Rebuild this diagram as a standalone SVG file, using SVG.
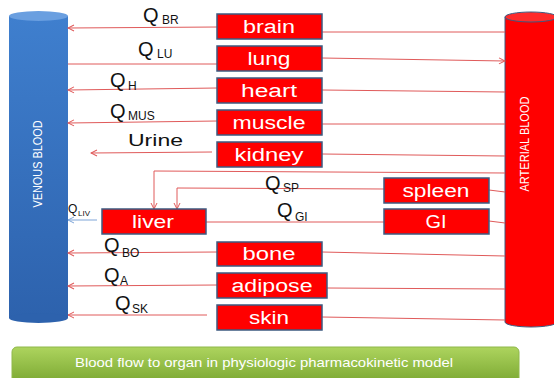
<svg xmlns="http://www.w3.org/2000/svg" width="554" height="378" viewBox="0 0 554 378">
<defs>
<linearGradient id="vg" x1="0" y1="0" x2="0" y2="1"><stop offset="0" stop-color="#3f7fce"/><stop offset="1" stop-color="#2d62ad"/></linearGradient>
<linearGradient id="fg" x1="0" y1="0" x2="0" y2="1"><stop offset="0" stop-color="#add45e"/><stop offset="1" stop-color="#78a52f"/></linearGradient>
<marker id="ar" markerWidth="8" markerHeight="8" refX="7" refY="4" orient="auto" markerUnits="userSpaceOnUse"><path d="M1,1 L7,4 L1,7" fill="none" stroke="#e05a5a" stroke-width="1"/></marker>
<marker id="ab" markerWidth="8" markerHeight="8" refX="7" refY="4" orient="auto" markerUnits="userSpaceOnUse"><path d="M1,1 L7,4 L1,7" fill="none" stroke="#7ea5d8" stroke-width="1"/></marker>
<style>
.box{fill:#ff0000;stroke:#3d5a80;stroke-width:1.5}
.bt{fill:#fff;font-family:"Liberation Sans",Arial,sans-serif;font-size:18px;text-anchor:middle}
.c{fill:none;stroke:#e05a5a;stroke-width:1}
.q{fill:#111;font-family:"Liberation Sans",Arial,sans-serif;font-size:20px}
.s{font-size:12px}
.cyl{fill:#fff;font-family:"Liberation Sans",Arial,sans-serif;font-size:12px;text-anchor:middle}
</style>
</defs>
<rect width="554" height="378" fill="#fff"/>
<g id="venous">
<rect x="9" y="16" width="59" height="302" fill="url(#vg)"/>
<ellipse cx="38.5" cy="318" rx="29.5" ry="5" fill="#2d62ad"/>
<ellipse cx="38.5" cy="16" rx="29.5" ry="5" fill="#6a9fe0"/>
<text class="cyl" transform="translate(42,164) rotate(-90)" textLength="87" lengthAdjust="spacingAndGlyphs">VENOUS BLOOD</text>
</g>
<g id="arterial">
<path d="M505,17 L505,322 A26,5 0 0 0 557,322 L557,17 Z" fill="#ff0000" stroke="#3d5a80" stroke-width="1"/>
<ellipse cx="531" cy="17" rx="26" ry="5" fill="#ff2a2a" stroke="#3d5a80" stroke-width="1"/>
<text class="cyl" transform="translate(529,144) rotate(-90)" textLength="95" lengthAdjust="spacingAndGlyphs">ARTERIAL BLOOD</text>
</g>
<g id="connectors">
<path class="c" d="M322,32 L505,32"/>
<path class="c" d="M217,27 L68,28" marker-end="url(#ar)"/>
<path class="c" d="M68,64 L217,64"/>
<path class="c" d="M322,58 L505,61" marker-end="url(#ar)"/>
<path class="c" d="M322,90 L505,92"/>
<path class="c" d="M217,88 L68,90" marker-end="url(#ar)"/>
<path class="c" d="M322,124 L505,124"/>
<path class="c" d="M217,121 L68,123" marker-end="url(#ar)"/>
<path class="c" d="M322,154 L505,156"/>
<path class="c" d="M212,152 L91,153" marker-end="url(#ar)"/>
<path class="c" d="M505,173 L154,171 L154,209" marker-end="url(#ar)"/>
<path class="c" d="M489,190 L505,192"/>
<path class="c" d="M384,189 L177,188 L177,209" marker-end="url(#ar)"/>
<path class="c" d="M489,221 L505,223"/>
<path class="c" d="M384,222 L206,222"/>
<path d="M97,220 L68,220" fill="none" stroke="#7ea5d8" stroke-width="1" marker-end="url(#ab)"/>
<path class="c" d="M322,252 L505,256"/>
<path class="c" d="M217,252 L68,253" marker-end="url(#ar)"/>
<path class="c" d="M327,288 L505,289"/>
<path class="c" d="M217,285 L68,286" marker-end="url(#ar)"/>
<path class="c" d="M322,317 L505,320"/>
<path class="c" d="M207,315 L68,315" marker-end="url(#ar)"/>
</g>
<g id="brain"><rect class="box" x="217" y="14" width="105" height="25"/><text class="bt" x="269" y="33" textLength="52" lengthAdjust="spacingAndGlyphs">brain</text></g>
<g id="lung"><rect class="box" x="217" y="46" width="105" height="25"/><text class="bt" x="269" y="65" textLength="43" lengthAdjust="spacingAndGlyphs">lung</text></g>
<g id="heart"><rect class="box" x="217" y="78" width="105" height="25"/><text class="bt" x="269" y="97" textLength="56" lengthAdjust="spacingAndGlyphs">heart</text></g>
<g id="muscle"><rect class="box" x="217" y="110" width="105" height="25"/><text class="bt" x="269" y="129" textLength="73" lengthAdjust="spacingAndGlyphs">muscle</text></g>
<g id="kidney"><rect class="box" x="217" y="142" width="105" height="25"/><text class="bt" x="269" y="161" textLength="69" lengthAdjust="spacingAndGlyphs">kidney</text></g>
<g id="spleen"><rect class="box" x="384" y="178" width="105" height="25"/><text class="bt" x="436" y="197" textLength="67" lengthAdjust="spacingAndGlyphs">spleen</text></g>
<g id="liver"><rect class="box" x="102" y="209" width="104" height="25"/><text class="bt" x="153" y="228" textLength="42" lengthAdjust="spacingAndGlyphs">liver</text></g>
<g id="gi"><rect class="box" x="384" y="209" width="105" height="25"/><text class="bt" x="436" y="228" textLength="21" lengthAdjust="spacingAndGlyphs">GI</text></g>
<g id="bone"><rect class="box" x="217" y="242" width="105" height="24"/><text class="bt" x="269" y="260" textLength="53" lengthAdjust="spacingAndGlyphs">bone</text></g>
<g id="adipose"><rect class="box" x="217" y="273" width="110" height="25"/><text class="bt" x="272" y="292" textLength="81" lengthAdjust="spacingAndGlyphs">adipose</text></g>
<g id="skin"><rect class="box" x="217" y="305" width="105" height="25"/><text class="bt" x="269" y="324" textLength="40" lengthAdjust="spacingAndGlyphs">skin</text></g>
<g id="labels">
<text class="q" x="143" y="22">Q<tspan class="s" x="162" y="24">BR</tspan></text>
<text class="q" x="138" y="56">Q<tspan class="s" x="157" y="58">LU</tspan></text>
<text class="q" x="110" y="87">Q<tspan class="s" x="128" y="90">H</tspan></text>
<text class="q" x="110" y="118">Q<tspan class="s" x="128" y="120">MUS</tspan></text>
<text class="q" x="128" y="146" style="font-size:17px" textLength="55" lengthAdjust="spacingAndGlyphs">Urine</text>
<text class="q" x="265" y="190">Q<tspan class="s" x="283" y="192">SP</tspan></text>
<text class="q" x="277" y="217">Q<tspan class="s" x="295" y="221">GI</tspan></text>
<text class="q" x="68" y="213" style="font-size:12px">Q<tspan style="font-size:8px" x="78" y="216">LIV</tspan></text>
<text class="q" x="104" y="252">Q<tspan class="s" x="122" y="257">BO</tspan></text>
<text class="q" x="104" y="282">Q<tspan class="s" x="120" y="285">A</tspan></text>
<text class="q" x="115" y="310">Q<tspan class="s" x="132" y="313">SK</tspan></text>
</g>
<g id="footer">
<rect x="12" y="347" width="507" height="38" rx="5" fill="url(#fg)" stroke="#8fb84a" stroke-width="1"/>
<text x="264" y="367" fill="#fff" font-family="'Liberation Sans',Arial,sans-serif" font-size="13.5" text-anchor="middle" textLength="378" lengthAdjust="spacingAndGlyphs">Blood flow to organ in physiologic pharmacokinetic model</text>
</g>
</svg>
